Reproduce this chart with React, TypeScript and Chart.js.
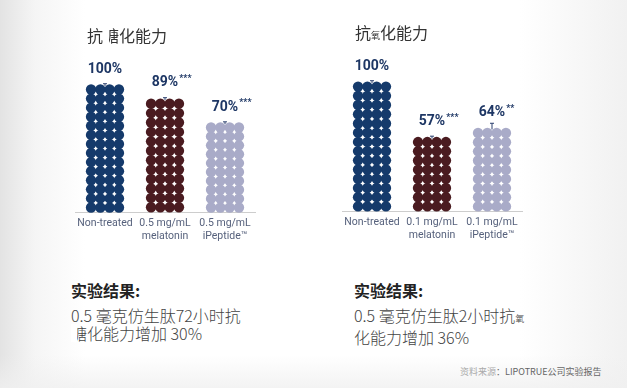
import React, { useEffect, useRef } from "react";
import { Chart, registerables } from "chart.js";

Chart.register(...registerables);

// ---- data ----
const leftCategories = [["Non-treated"], ["0.5 mg/mL", "melatonin"], ["0.5 mg/mL", "iPeptide™"]];
const leftValues = [100, 89, 70];
const leftStars = ["", "***", "***"];
const leftErrors = [1, 1, 1];

const rightCategories = [["Non-treated"], ["0.1 mg/mL", "melatonin"], ["0.1 mg/mL", "iPeptide™"]];
const rightValues = [100, 57, 64];
const rightStars = ["", "***", "**"];
const rightErrors = [1, 1, 4];

const dotColors = ["#153a6b", "#4a1b20", "#a9abc8"];

const dotPlugin = {
  id: "dotBars",
  afterDatasetsDraw(chart: any) {
    const ctx = chart.ctx;
    const meta = chart.getDatasetMeta(0);
    const ds = chart.data.datasets[0];
    const yScale = chart.scales.y;
    ctx.save();
    meta.data.forEach((bar: any, i: number) => {
      const { x, y, base, width } = bar.getProps(["x", "y", "base", "width"], true);
      const left = x - width / 2;
      const cols = 4;
      const pitch = width / cols;
      const h = base - y;
      const rows = Math.max(1, Math.round(h / pitch));
      const vp = h / rows;
      ctx.fillStyle = ds.dotColors[i];
      for (let r = 0; r < rows; r++) {
        for (let c = 0; c < cols; c++) {
          ctx.beginPath();
          ctx.arc(left + pitch * (c + 0.5), base - vp * (r + 0.5), pitch * 0.56, 0, Math.PI * 2);
          ctx.fill();
        }
      }
      // error bar
      const v = ds.data[i];
      const yTop = yScale.getPixelForValue(v + ds.errors[i]);
      ctx.strokeStyle = "#2a3f6e";
      ctx.lineWidth = 1;
      ctx.beginPath();
      ctx.moveTo(x, y + 1);
      ctx.lineTo(x, yTop);
      ctx.moveTo(x - 2, yTop);
      ctx.lineTo(x + 2, yTop);
      ctx.stroke();
      // value label
      const label = `${v}%`;
      const ly = y - 16;
      ctx.font = "bold 14px Roboto";
      ctx.fillStyle = "#1d3664";
      ctx.textAlign = "center";
      ctx.textBaseline = "middle";
      ctx.fillText(label, x, ly);
      const w = ctx.measureText(label).width;
      if (ds.stars[i]) {
        ctx.font = "bold 9px Roboto";
        ctx.textAlign = "left";
        ctx.fillText(ds.stars[i], x + w / 2 + 1, ly - 4);
      }
    });
    ctx.restore();
  },
};

function DotChart(props: {
  categories: string[][];
  values: number[];
  stars: string[];
  errors: number[];
  padTop: number;
  padBottom: number;
}) {
  const ref = useRef<HTMLCanvasElement | null>(null);
  useEffect(() => {
    if (!ref.current) return;
    const chart = new Chart(ref.current, {
      type: "bar",
      data: {
        labels: props.categories,
        datasets: [
          {
            data: props.values,
            backgroundColor: "rgba(0,0,0,0)",
            barPercentage: 0.62,
            categoryPercentage: 1,
            dotColors: dotColors,
            stars: props.stars,
            errors: props.errors,
          } as any,
        ],
      },
      options: {
        animation: false,
        responsive: false,
        maintainAspectRatio: false,
        layout: { padding: { top: props.padTop, bottom: props.padBottom, left: 20, right: 20 } },
        plugins: { legend: { display: false }, tooltip: { enabled: false } },
        scales: {
          x: {
            grid: { display: false, drawTicks: false },
            border: { display: true, color: "#cdcdcd", width: 1 },
            ticks: {
              color: "#56617c",
              font: { family: "Roboto", size: 10.5, lineHeight: "13px" } as any,
              padding: 5,
              maxRotation: 0,
              autoSkip: false,
            },
            afterFit: (s: any) => {
              s.height = 40;
            },
          },
          y: { display: false, min: 0, max: 100 },
        },
      },
      plugins: [dotPlugin],
    });
    return () => chart.destroy();
  }, []);
  return <canvas ref={ref} width={220} height={220} style={{ width: 220, height: 220, display: "block" }} />;
}

const Sugar = () => (
  <span style={{ position: "relative", display: "inline-block" }}>
    糖
    <span
      style={{
        position: "absolute",
        left: 0,
        top: 0,
        width: "38%",
        height: "100%",
        background: "#ffffff",
      }}
    />
  </span>
);

const SmallOx = () => <span style={{ fontSize: 9 }}>氧</span>;

export default function App() {
  const cjk = '"Noto Sans CJK SC", "Noto Sans", sans-serif';
  return (
    <div
      style={{
        position: "fixed",
        left: 0,
        top: 0,
        width: 627,
        height: 388,
        overflow: "hidden",
        fontFamily: cjk,
        background:
          "linear-gradient(to right, #e3e3e3 0px, #f5f5f5 35px, #ffffff 85px, #ffffff 520px, #f1f1f1 627px)",
      }}
    >
      <div
        style={{
          position: "absolute",
          left: 0,
          top: 355,
          width: 627,
          height: 33,
          background: "linear-gradient(to bottom, rgba(240,240,240,0) 0px, rgba(240,240,240,0.8) 33px)",
        }}
      />
      <div style={{ position: "absolute", left: 55, top: 40 }}>
        <DotChart
          categories={leftCategories}
          values={leftValues}
          stars={leftStars}
          errors={leftErrors}
          padTop={45}
          padBottom={8}
        />
      </div>
      <div style={{ position: "absolute", left: 322, top: 40 }}>
        <DotChart
          categories={rightCategories}
          values={rightValues}
          stars={rightStars}
          errors={rightErrors}
          padTop={42}
          padBottom={9}
        />
      </div>

      <div style={{ position: "absolute", left: 87, top: 25, fontSize: 16, lineHeight: "20px", color: "#333", whiteSpace: "nowrap" }}>
        抗<Sugar />化能力
      </div>
      <div style={{ position: "absolute", left: 355, top: 22, fontSize: 16, lineHeight: "20px", color: "#333", whiteSpace: "nowrap" }}>
        抗<SmallOx />化能力
      </div>

      <div style={{ position: "absolute", left: 71, top: 280, fontSize: 16, lineHeight: "20px", fontWeight: 700, color: "#222" }}>
        实验结果:
      </div>
      <div style={{ position: "absolute", left: 71, top: 306, fontSize: 16, lineHeight: "18px", color: "#444", whiteSpace: "nowrap", fontWeight: 300 }}>
        <div>0.5 毫克仿生肽72小时抗</div>
        <div>
          <Sugar />化能力增加 30%
        </div>
      </div>

      <div style={{ position: "absolute", left: 354, top: 280, fontSize: 16, lineHeight: "20px", fontWeight: 700, color: "#222" }}>
        实验结果:
      </div>
      <div style={{ position: "absolute", left: 354, top: 306, fontSize: 16, lineHeight: "18px", color: "#444", whiteSpace: "nowrap", fontWeight: 300 }}>
        <div>
          0.5 毫克仿生肽2小时抗<SmallOx />
        </div>
        <div>化能力增加 36%</div>
      </div>

      <div style={{ position: "absolute", left: 460, top: 366, fontSize: 9, lineHeight: "12px", whiteSpace: "nowrap" }}>
        <span style={{ color: "#aaa" }}>资料来源</span>
        <span style={{ color: "#666" }}>：LIPOTRUE公司实验报告</span>
      </div>
    </div>
  );
}
